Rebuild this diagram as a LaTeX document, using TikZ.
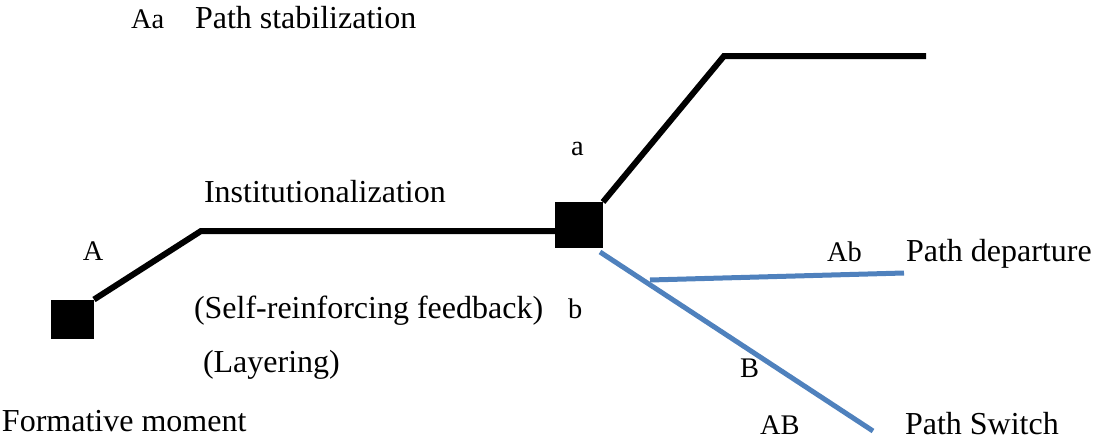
\documentclass[tikz,border=0pt]{standalone}
\usepackage{fontspec}
\setmainfont{Liberation Serif}
\usetikzlibrary{positioning}
\usepackage{xcolor}
\definecolor{pathblue}{RGB}{79,129,189}
\newcommand{\mainsz}{\fontsize{16}{19}\selectfont}
\newcommand{\ltrsz}{\fontsize{14.2}{17}\selectfont}
\tikzset{
    sqsty/.style={fill=black,rectangle,inner sep=0pt,outer sep=0pt},
    blksty/.style={draw=black,line width=3pt,line join=miter},
    blusty/.style={draw=pathblue,line width=2.5pt},
    txtsty/.style={anchor=base west,inner sep=0pt,outer sep=0pt,font=\mainsz},
    ltrsty/.style={anchor=base west,inner sep=0pt,outer sep=0pt,font=\ltrsz},
}

\begin{document}
\begin{tikzpicture}[x=0.5pt,y=-0.5pt]
  \useasboundingbox (0,0) rectangle (1093,439);

  % moments
  \node[sqsty, minimum width=21.5pt, minimum height=19.5pt] (form) at (72.5,319) {};
  \node[sqsty, minimum width=24pt, minimum height=23pt] (junc) at (579,225) {};

  % bends and ends of the paths
  \coordinate (instA) at (201,231);
  \coordinate (stabA) at (724,56);
  \coordinate (stabB) at (926,56);
  \coordinate (swA) at (600,252);
  \coordinate (swB) at (873,431);
  \coordinate (depA) at (650,280);
  \coordinate (depB) at (904,273);

  \draw[blksty] (form.north east) -- (instA) -- (instA -| junc.west);
  \draw[blksty] (junc.north east) -- (stabA) -- (stabB);
  \draw[blusty] (swA) -- (swB);
  \draw[blusty] (depA) -- (depB);

  % labels
  \node[ltrsty] (lAa) at (131,28) {Aa};
  \node[txtsty] (stab) at (195,28) {Path stabilization};
  \node[ltrsty] (la) at (571,155) {a};
  \node[txtsty] (inst) at (204,202) {Institutionalization};
  \node[ltrsty] (lA) at (83,260) {A};
  \node[ltrsty] (lAb) at (827,261) {Ab};
  \node[txtsty] (dep) at (906,261) {Path departure};
  \node[txtsty] (self) at (194,318) {(Self-reinforcing feedback)};
  \node[ltrsty] (lb) at (568,318) {b};
  \node[txtsty] (layr) at (203,372) {(Layering)};
  \node[ltrsty] (lB) at (740,377) {B};
  \node[txtsty] (fmom) at (2,431) {Formative moment};
  \node[ltrsty] (lAB) at (760,434) {AB};
  \node[txtsty] (swit) at (905,434) {Path Switch};
\end{tikzpicture}
\end{document}
